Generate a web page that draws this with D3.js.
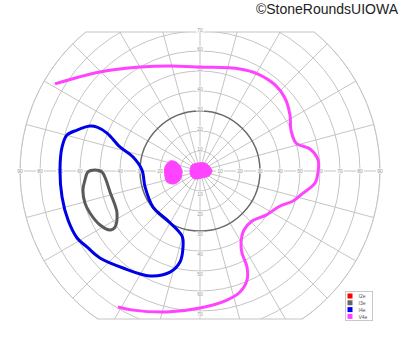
<!DOCTYPE html>
<html>
<head>
<meta charset="utf-8">
<script src="https://cdn.jsdelivr.net/npm/d3@7"></script>
<style>
  html, body { margin: 0; padding: 0; background: #fff; }
  svg { display: block; }
</style>
</head>
<body>
<svg id="chart" width="400" height="352"></svg>
<script>
// ring eccentricities (degrees) and labels
const ringDegrees = [10, 20, 30, 40, 50, 60, 70, 80, 90];
const sideLabels = [10, 20, 30, 40, 50, 60, 70, 80, 90];
const vertLabels = [10, 20, 30, 40, 50, 60, 70];
const meridianStep = 15;

// isopters as [meridian angle (deg, 0 = right, ccw), eccentricity (deg)]
const isoV4e = [
  [149, 84.6], [135.3, 70.4], [120, 60], [105.9, 54.6], [90, 52], [68.6, 54.8],
  [59.1, 56.5], [48.9, 57.1], [40.7, 56], [31.9, 53], [24.3, 49.9], [16.3, 50],
  [11.3, 56.1], [5.3, 59.3], [-0.5, 59], [-6, 57.8], [-12.1, 52.7], [-17.9, 48.9],
  [-23.6, 43.7], [-33.7, 39.7], [-43.9, 36.1], [-53.3, 36.8], [-60.3, 41.4],
  [-62.9, 46.1], [-63.9, 53.4], [-66.7, 59.4], [-71.7, 63.7], [-78.2, 65.9],
  [-90, 68.5], [-103.2, 72.4], [-115.7, 77.2], [-121.1, 79.4]
];
const isoI4e = [
  [157.8, 59.4], [161.6, 64.8], [164.9, 68.9], [170.1, 70], [179.6, 70], [190.7, 70.2],
  [200.4, 70.4], [208.6, 70], [213.9, 68.1], [221, 66.3], [231.6, 61.9], [244.5, 58.1],
  [253.5, 52.7], [257.6, 46.6], [257.4, 38.9], [254.5, 33.7], [236, 29.5], [217.5, 29.6],
  [196.2, 28.6], [179, 29], [168.2, 34.2], [163.3, 41.8], [157.8, 50.2], [156.9, 56]
];
const isoI3e = [
  [179.5, 52.5], [180.5, 56], [184.5, 57.7], [189.2, 59.3], [195.6, 59.7], [200.9, 58.9],
  [208.4, 56.8], [213.2, 53.8], [213.4, 50.9], [206.8, 46.5], [201.8, 45.8], [193.1, 46.2],
  [185.5, 47.2], [180.6, 49]
];
// V4e scotomas (filled)
const scotomaA = [
  [161.6, 15.8], [159.4, 12.8], [166, 10.3], [183.2, 9], [204.2, 11], [206.6, 14.5],
  [198.4, 17.4], [188.1, 17.7], [173.5, 17.6]
];
const scotomaB = [
  [143.1, 5], [104, 4.1], [58, 4.7], [29.1, 5.1], [0, 6], [-29.1, 5.1], [-74.1, 3.6],
  [-122, 4.7], [-150.9, 5.1], [-185.7, 5]
];

const legendNames = ["I2e", "I3e", "I4e", "V4e"];
const legendColors = ["#ff0000", "#666666", "#0000ff", "#ff44ff"];

const cx = 200, cy = 171;
const topY = 32, bottomY = 319;

const svg = d3.select("#chart");
const r = d3.scaleLinear().domain([0, 90]).range([0, 180]);
const rad = a => a * Math.PI / 180;
const toXY = d => [cx + r(d[1]) * Math.cos(rad(d[0])), cy - r(d[1]) * Math.sin(rad(d[0]))];

// clip to the cut-off circle
const R = r(90);
const dxTop = Math.sqrt(R * R - (cy - topY) ** 2);
const dxBot = Math.sqrt(R * R - (bottomY - cy) ** 2);
const outline = `M${cx - dxTop},${topY} L${cx + dxTop},${topY} ` +
  `A${R},${R} 0 0 1 ${cx + dxBot},${bottomY} L${cx - dxBot},${bottomY} ` +
  `A${R},${R} 0 0 1 ${cx - dxTop},${topY} Z`;

svg.append("defs").append("clipPath").attr("id", "field")
  .append("path").attr("d", outline);

const grid = svg.append("g").attr("clip-path", "url(#field)");

// meridians
grid.selectAll("line.mer")
  .data(d3.range(0, 360, meridianStep))
  .enter().append("line")
  .attr("x1", cx).attr("y1", cy)
  .attr("x2", d => toXY([d, 95])[0])
  .attr("y2", d => toXY([d, 95])[1])
  .attr("stroke", "#c4c4c4").attr("stroke-width", 1);

// rings
grid.selectAll("circle.ring")
  .data(ringDegrees)
  .enter().append("circle")
  .attr("cx", cx).attr("cy", cy)
  .attr("r", d => r(d))
  .attr("fill", "none")
  .attr("stroke", d => d === 30 ? "#6a6a6a" : "#c4c4c4")
  .attr("stroke-width", d => d === 30 ? 1.5 : 1);

svg.append("path").attr("d", outline)
  .attr("fill", "none").attr("stroke", "#c4c4c4").attr("stroke-width", 1);

// axis labels
const labels = [];
sideLabels.forEach(v => {
  labels.push({ t: v, x: cx + r(v), y: cy });
  labels.push({ t: v, x: cx - r(v), y: cy });
});
vertLabels.forEach(v => {
  labels.push({ t: v, x: cx, y: cy - r(v) + 3 * (v === 70 ? -0.3 : -0.7) });
  labels.push({ t: v, x: cx, y: cy + r(v) + 3 });
});
const lg = svg.append("g");
lg.selectAll("rect").data(labels).enter().append("rect")
  .attr("x", d => d.x - 4).attr("y", d => d.y - 2.5)
  .attr("width", 8).attr("height", 5)
  .attr("fill", "#fff").attr("opacity", 0.85);
lg.selectAll("text").data(labels).enter().append("text")
  .attr("x", d => d.x).attr("y", d => d.y)
  .attr("text-anchor", "middle").attr("dominant-baseline", "central")
  .attr("font-family", "Liberation Sans, Arial, sans-serif")
  .attr("font-size", 5).attr("fill", "#999")
  .text(d => d.t);

// isopters
const openLine = d3.line().curve(d3.curveCatmullRom.alpha(0.5));
const closedLine = d3.line().curve(d3.curveCatmullRomClosed.alpha(0.5));

svg.append("path").attr("d", closedLine(scotomaA.map(toXY)))
  .attr("fill", "#ff44ff").attr("stroke", "#ff44ff").attr("stroke-width", 1);
svg.append("path").attr("d", closedLine(scotomaB.map(toXY)))
  .attr("fill", "#ff44ff").attr("stroke", "#ff44ff").attr("stroke-width", 1);

svg.append("path").attr("d", closedLine(isoI3e.map(toXY)))
  .attr("fill", "none").attr("stroke", "#5a5a5a").attr("stroke-width", 3);
svg.append("path").attr("d", closedLine(isoI4e.map(toXY)))
  .attr("fill", "none").attr("stroke", "#0000e6").attr("stroke-width", 3);
svg.append("path").attr("d", openLine(isoV4e.map(toXY)))
  .attr("fill", "none").attr("stroke", "#ff44ff").attr("stroke-width", 3);

// legend
const leg = svg.append("g").attr("transform", "translate(345.5,291.5)");
leg.append("rect").attr("width", 27).attr("height", 29)
  .attr("fill", "#fff").attr("stroke", "#c8c8c8").attr("stroke-width", 1);
const item = leg.selectAll("g.item").data(legendNames).enter().append("g")
  .attr("transform", (d, i) => `translate(2,${2 + i * 6.8})`);
item.append("rect").attr("width", 5).attr("height", 5)
  .attr("fill", (d, i) => legendColors[i]);
item.append("text").attr("x", 11).attr("y", 2.7)
  .attr("dominant-baseline", "central")
  .attr("font-family", "Liberation Sans, Arial, sans-serif")
  .attr("font-size", 5).attr("fill", "#555")
  .text(d => d);

// copyright
svg.append("text").attr("x", 398).attr("y", 14)
  .attr("text-anchor", "end")
  .attr("font-family", "Liberation Sans, Arial, sans-serif")
  .attr("font-size", 14).attr("fill", "#222")
  .text("\u00a9StoneRoundsUIOWA");
</script>
</body>
</html>
